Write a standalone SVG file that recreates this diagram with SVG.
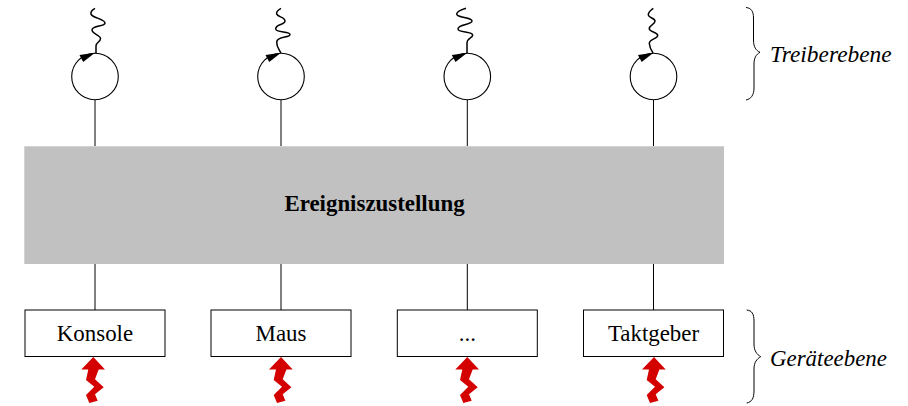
<svg xmlns="http://www.w3.org/2000/svg" width="908" height="406" viewBox="0 0 908 406">
<style>
.l{fill:none;stroke:#000;stroke-width:1}
.s{fill:none;stroke:#000;stroke-width:1.5}
.c{fill:#fff;stroke:#000;stroke-width:1.1}
.b{fill:#fff;stroke:#000;stroke-width:1}
.t{font-family:"Liberation Serif",serif;font-size:22.9px;fill:#000;text-anchor:middle}
.i{font-family:"Liberation Serif",serif;font-size:22.9px;font-style:italic;fill:#000}
.z{fill:#d40000}
</style>
<defs>
<path id="bolt" class="z" d="M0 0L-12 12.500L-5 12.500L-7.300 23L1 29.700L-7.300 38L-4 46L4.400 43.700L1.700 37.300L10.400 30.300L1.700 22.300L5.400 12.500L11.700 12.500Z"/>
<path id="head" d="M0 -23.800L-15.500 -21.500L-11.800 -14.500Z"/>
</defs>
<g id="connectors">
<path class="l" d="M95 100V146M281 100V146M467.300 100V146M653.500 100V146M95 264V310M281 264V310M467.300 264V310M653.500 264V310"/>
<path class="s" d="M95 8.300C92 10 90.500 12 91 14C92 18 105 19 105 23C105 27 92 25 92 30C92 34 100.500 35 100.500 38.500C100.500 42 96 42 96 46L96 53"/>
<path class="s" d="M281 8.300C278 10 276 12 276.700 14C277.500 17 285 17 285 21C285 25 275.500 24 275.700 29C276 33 290 31 290 34.500C290 38 277 36 276.700 42C276.500 47 279 49 281 53"/>
<path class="s" d="M466 8.300C462 9.500 457 11 456.700 14C456.500 18 472 17 472 21C472 25 458 24 458 29C458 33 472.500 31 472.700 35C473 38 467 38 467 43L467 53"/>
<path class="s" d="M653.300 8.300C651 10 648 12 648.300 15C648.500 18 655 18 655 21C655 25 649 25 649.300 29C649.500 32 657.700 32 657.700 35.500C657.700 39 649 39 649.300 43.500C649.500 47 651 50 653 53"/>
</g>
<g id="node-treiber-1"><circle class="c" cx="95" cy="76.500" r="23.300"/><use href="#head" x="95" y="76.500"/></g>
<g id="node-treiber-2"><circle class="c" cx="281" cy="76.500" r="23.300"/><use href="#head" x="281" y="76.500"/></g>
<g id="node-treiber-3"><circle class="c" cx="467.300" cy="76.500" r="23.300"/><use href="#head" x="467.300" y="76.500"/></g>
<g id="node-treiber-4"><circle class="c" cx="653.500" cy="76.500" r="23.300"/><use href="#head" x="653.500" y="76.500"/></g>
<g id="node-ereignis"><rect x="24.300" y="146.300" width="699.700" height="117.700" fill="#c1c1c1"/><text x="374.500" y="211" class="t" font-weight="bold">Ereigniszustellung</text></g>
<g id="node-konsole"><rect class="b" x="25" y="310" width="140" height="46.500"/><text class="t" x="95" y="340.700">Konsole</text></g>
<g id="node-maus"><rect class="b" x="211" y="310" width="140" height="46.500"/><text class="t" x="281" y="340.700">Maus</text></g>
<g id="node-dots"><rect class="b" x="397.300" y="310" width="140" height="46.500"/><text class="t" x="467.300" y="340.700">...</text></g>
<g id="node-taktgeber"><rect class="b" x="583.500" y="310" width="140" height="46.500"/><text class="t" x="653.500" y="340.700">Taktgeber</text></g>
<g id="bolts">
<use href="#bolt" x="93.300" y="357"/><use href="#bolt" x="281" y="357"/><use href="#bolt" x="467.300" y="357"/><use href="#bolt" x="654" y="357"/>
</g>
<g id="node-treiberebene"><path class="l" d="M746 7.500C751 8 753.500 11 753.500 18V40C753.500 47 756 50.500 760 52.300C756 54.500 754 58 754 64V88C754 95 751 99 746 100"/><text class="i" x="770" y="61.700" style="font-size:23.400px">Treiberebene</text></g>
<g id="node-geraeteebene"><path class="l" d="M746.700 310C752 310.500 754 314 754 321V344C754 351 757 354.500 760.700 356.700C757 359 754 362 754 369V391C754 398 752 402 746.700 403"/><text class="i" x="770" y="366">Geräteebene</text></g>
</svg>
